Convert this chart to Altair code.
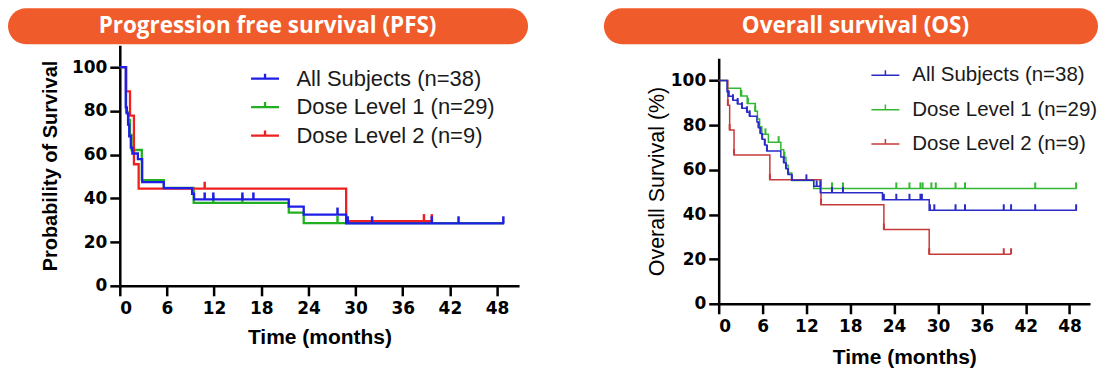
import altair as alt
import pandas as pd

SERIES = ["All Subjects (n=38)", "Dose Level 1 (n=29)", "Dose Level 2 (n=9)"]

# ---------------- Progression free survival (PFS) ----------------
pfs_all_t = [0, 0.76, 0.9, 1.05, 1.2, 1.4, 1.6, 2.3, 2.85, 5.6, 9.2, 9.45, 21.5, 23.4, 28.8, 48.9]
pfs_all_v = [100, 81.6, 78.9, 73.7, 68.4, 63.2, 60.5, 57.9, 47.4, 44.7, 42.1, 39.5, 36.2, 32.6, 28.6, 28.6]
pfs_d1_t = [0, 0.8, 1.1, 1.3, 1.5, 2.8, 5.6, 9.4, 21.5, 23.4, 48.9]
pfs_d1_v = [100, 79.3, 75.9, 69.0, 62.1, 48.3, 44.8, 37.9, 33.5, 28.7, 28.7]
pfs_d2_t = [0, 0.8, 1.3, 1.8, 2.4, 28.8, 39.8]
pfs_d2_v = [100, 88.9, 77.8, 55.6, 44.4, 29.6, 29.6]

pfs_all_ct = [10.8, 11.9, 15.6, 17.0, 27.7, 29.0, 32.1, 39.7, 43.1, 48.8]
pfs_all_cv = [39.5, 39.5, 39.5, 39.5, 32.6, 28.6, 28.6, 28.6, 28.6, 28.6]
pfs_d1_ct = [11.9, 15.6, 27.7]
pfs_d1_cv = [37.9, 37.9, 28.7]
pfs_d2_ct = [10.8, 38.7, 39.7]
pfs_d2_cv = [44.4, 29.6, 29.6]

# ---------------- Overall survival (OS) ----------------
os_all_t = [0, 1.14, 1.36, 1.95, 2.59, 3.18, 3.86, 4.23, 5.23, 5.45, 5.7, 5.95, 6.3, 6.6,
            8.5, 8.9, 9.2, 9.5, 10.0, 13.0, 13.9, 22.4, 28.8, 49.0]
os_all_v = [100, 95.0, 93.0, 91.2, 89.5, 87.6, 85.8, 84.0, 81.4, 78.9, 76.3, 73.7, 71.1, 68.4,
            65.8, 63.2, 60.5, 57.9, 55.3, 52.6, 49.7, 46.6, 41.9, 41.9]
os_d1_t = [0, 1.2, 3.0, 3.9, 5.0, 5.3, 5.6, 5.9, 6.8, 8.5, 8.9, 9.2, 9.5, 10.0, 13.0, 49.0]
os_d1_v = [100, 96.6, 93.1, 89.7, 86.2, 82.8, 79.3, 75.9, 72.4, 69.0, 65.5, 62.1, 58.6, 55.2, 51.7, 51.7]
os_d2_t = [0, 1.25, 1.5, 2.1, 7.0, 14.0, 22.6, 28.8, 40.0]
os_d2_v = [100, 88.9, 77.8, 66.7, 55.6, 44.4, 33.3, 22.2, 22.2]

os_all_ct = [1.36, 1.95, 2.59, 3.18, 3.86, 4.23, 5.45, 5.7, 5.95, 6.3, 6.6, 8.9, 9.2, 9.5, 10.0,
             12.0, 13.4, 13.9, 15.5, 17.0, 22.6, 24.3, 26.1, 27.6, 27.8,
             28.9, 29.5, 32.4, 33.7, 39.0, 40.0, 43.3, 48.9]
os_all_cv = [93.0, 91.2, 89.5, 87.6, 85.8, 84.0, 78.9, 76.3, 73.7, 71.1, 68.4, 63.2, 60.5, 57.9, 55.3,
             55.3, 52.6, 52.6, 49.7, 49.7, 46.6, 46.6, 46.6, 46.6, 46.6,
             41.9, 41.9, 41.9, 41.9, 41.9, 41.9, 41.9, 41.9]
os_d1_ct = [3.1, 4.0, 5.0, 6.4, 8.2, 9.0, 15.5, 17.0, 24.3, 26.1, 27.6, 27.9, 29.1, 29.7, 32.4, 33.7, 43.3, 48.9]
os_d1_cv = [93.1, 89.7, 86.2, 75.9, 72.4, 65.5, 51.7, 51.7, 51.7, 51.7, 51.7, 51.7, 51.7, 51.7, 51.7, 51.7, 51.7, 51.7]
os_d2_ct = [1.25, 1.5, 2.1, 7.0, 14.0, 22.6, 28.8, 39.0, 40.0]
os_d2_cv = [88.9, 77.8, 66.7, 55.6, 44.4, 33.3, 22.2, 22.2, 22.2]

X_TICKS = [0, 6, 12, 18, 24, 30, 36, 42, 48]
Y_TICKS = [0, 20, 40, 60, 80, 100]

ORANGE = "#EF5B2A"
LEG_SYMBOL = "M-1,0H1M0,0V-0.36"


def frame(series, t, v):
    return pd.DataFrame({"time": t, "surv": v, "series": series})


def panel(curves, censors, colors, width, height, yrange, banner, ytitle, ybold, ytitle_size,
          stroke_w, tick_w, tick_len, leg_x, leg_y, leg_font, leg_row_pad, leg_offset,
          ytitle_pad, xtitle_pad):
    cscale = alt.Scale(domain=SERIES, range=colors)
    legend = alt.Legend(
        title=None, orient="none", legendX=leg_x, legendY=leg_y,
        symbolType=LEG_SYMBOL, symbolSize=784, symbolStrokeWidth=stroke_w,
        labelFont="Liberation Sans", labelFontSize=leg_font, labelColor="#1a1a1a",
        labelOffset=leg_offset, rowPadding=leg_row_pad, padding=0, labelLimit=400,
    )
    xs = alt.X("time:Q", scale=alt.Scale(domain=[0, 50.8], nice=False, zero=True),
               axis=alt.Axis(values=X_TICKS, title="Time (months)", titlePadding=xtitle_pad))
    yscale = alt.Scale(domain=[0, 110], nice=False, range=yrange) if yrange else \
        alt.Scale(domain=[0, 110], nice=False)
    ys = alt.Y("surv:Q", scale=yscale,
               axis=alt.Axis(values=Y_TICKS, title=ytitle, titlePadding=ytitle_pad,
                             titleFontSize=ytitle_size,
                             titleFontWeight="bold" if ybold else "normal"))
    bdf = pd.DataFrame({"label": [banner["text"]]})
    layers = [
        alt.Chart(bdf).mark_rect(color=ORANGE, cornerRadius=19).encode(
            x=alt.value(banner["x0"]), x2=alt.value(banner["x1"]),
            y=alt.value(banner["y0"]), y2=alt.value(banner["y1"])),
        alt.Chart(bdf).mark_text(color="white", font="Open Sans", fontWeight="bold",
                                 fontSize=22.5, align="center", baseline="middle").encode(
            text="label:N", x=alt.value(banner["tx"]), y=alt.value(banner["ty"])),
    ]
    for idx in [1, 2, 0]:
        name = SERIES[idx]
        t, v = curves[idx]
        ct, cv = censors[idx]
        layers.append(
            alt.Chart(frame(name, t, v)).mark_line(interpolate="step-after", strokeWidth=stroke_w).encode(
                x=xs, y=ys, color=alt.Color("series:N", scale=cscale, legend=legend)))
        layers.append(
            alt.Chart(frame(name, ct, cv)).mark_tick(orient="vertical", size=tick_len,
                                                     thickness=tick_w, yOffset=-tick_len / 2,
                                                     opacity=1).encode(
                x=xs, y=ys, color=alt.Color("series:N", scale=cscale, legend=legend)))
    return alt.layer(*layers).properties(width=width, height=height)


left = panel(
    curves=[(pfs_all_t, pfs_all_v), (pfs_d1_t, pfs_d1_v), (pfs_d2_t, pfs_d2_v)],
    censors=[(pfs_all_ct, pfs_all_cv), (pfs_d1_ct, pfs_d1_cv), (pfs_d2_ct, pfs_d2_cv)],
    colors=["#1e1ee6", "#22b022", "#ee2020"],
    width=400, height=241, yrange=None,
    banner={"text": "Progression free survival (PFS)", "x0": -112, "x1": 409,
            "y0": -37, "y1": -1, "tx": 148, "ty": -19},
    ytitle="Probability of Survival", ybold=True, ytitle_size=20,
    stroke_w=2.3, tick_w=2.5, tick_len=7, leg_x=130, leg_y=18, leg_font=22, leg_row_pad=1.5,
    leg_offset=16, ytitle_pad=11, xtitle_pad=10,
)

right = panel(
    curves=[(os_all_t, os_all_v), (os_d1_t, os_d1_v), (os_d2_t, os_d2_v)],
    censors=[(os_all_ct, os_all_cv), (os_d1_ct, os_d1_cv), (os_d2_ct, os_d2_cv)],
    colors=["#2b2bc8", "#33b833", "#c83a3a"],
    width=372, height=259, yrange=[259, 13],
    banner={"text": "Overall survival (OS)", "x0": -115, "x1": 380,
            "y0": -37, "y1": -1, "tx": 137, "ty": -19},
    ytitle="Overall Survival (%)", ybold=False, ytitle_size=21.5,
    stroke_w=1.5, tick_w=2, tick_len=6, leg_x=152, leg_y=15, leg_font=20.5, leg_row_pad=8.5,
    leg_offset=12, ytitle_pad=2, xtitle_pad=12,
)

chart = alt.hconcat(left, right, spacing=76).resolve_scale(color="independent").properties(
    padding={"left": 0, "top": 0, "right": 0, "bottom": 0}
).configure_view(stroke=None).configure_axis(
    grid=False, domainColor="black", domainWidth=2.5, tickColor="black", tickWidth=2.5,
    tickSize=10, labelFont="DejaVu Sans", labelFontWeight="bold", labelFontSize=17,
    labelColor="black", labelPadding=3, titleFont="Liberation Sans", titleFontSize=21,
    titleColor="black", titleFontWeight="bold",
).configure_axisX(labelPadding=5)

chart.save("out.html", embed_options={"renderer": "svg", "actions": False})
